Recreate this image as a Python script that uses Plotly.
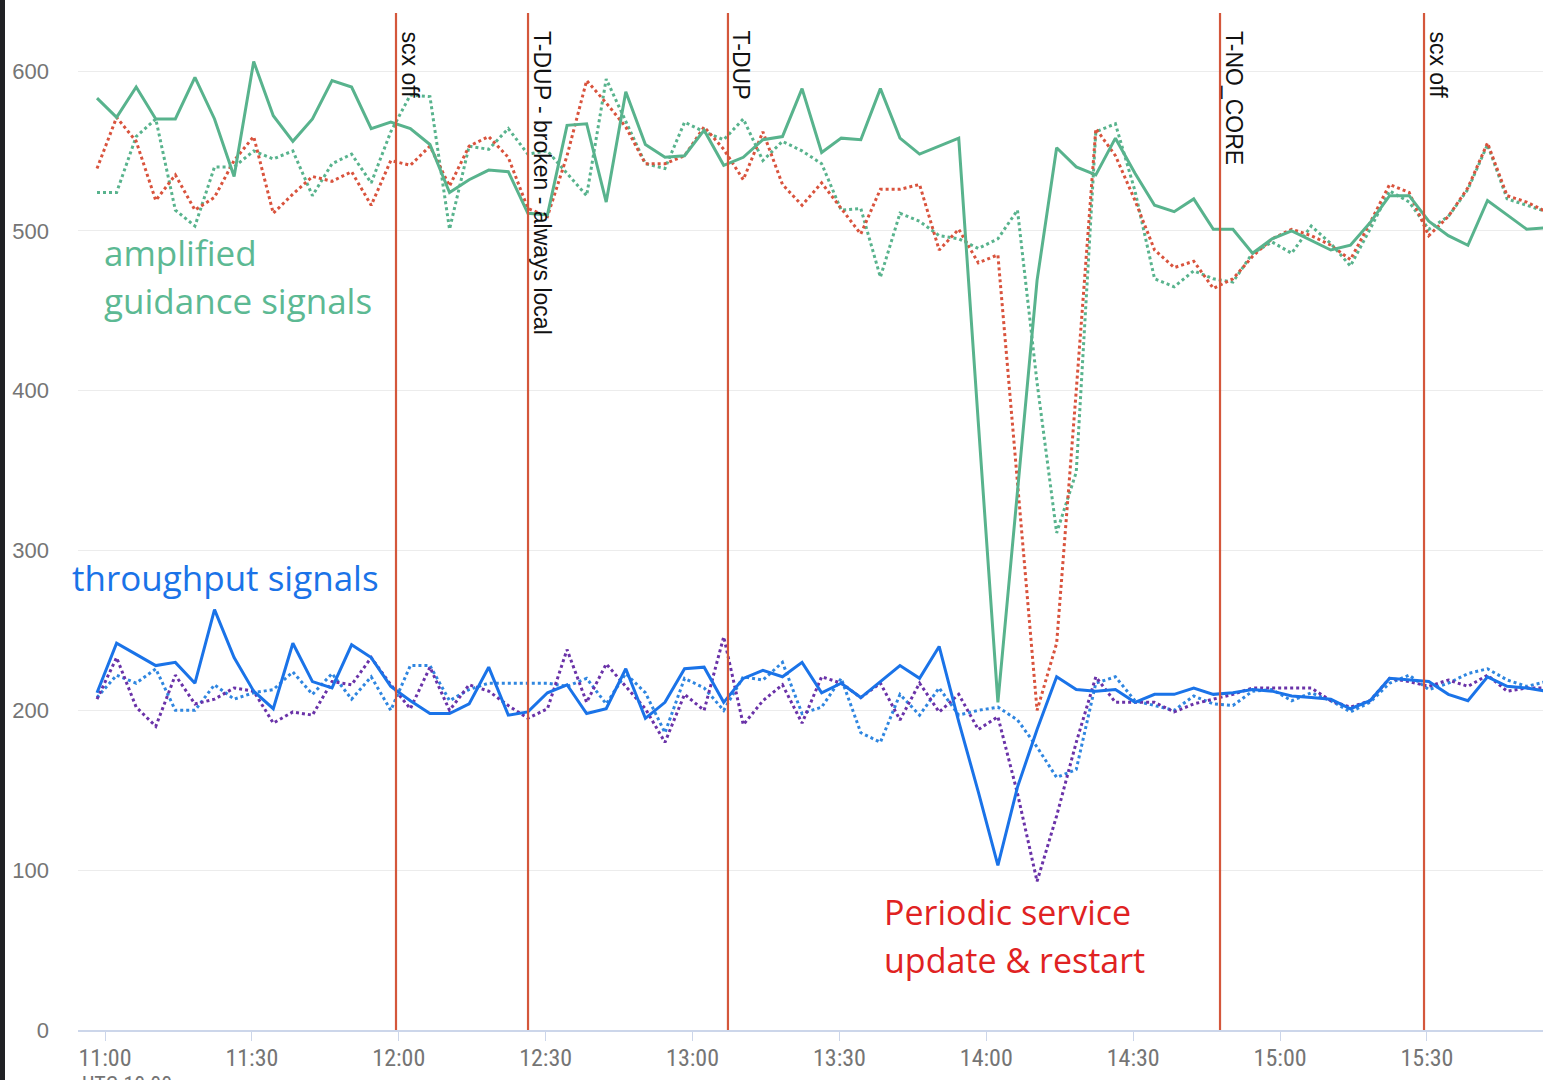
import pandas as pd
import plotly.graph_objects as go

# ---------------- data ----------------
start_time = "2024-05-14 10:58:22"
n_points = 75
times = pd.date_range(start=start_time, periods=n_points, freq="4min")

amp_main = [583,571,590,570,570,596,570,534,606,572,
            556,570,594,590,564,568,564,554,524,532,
            538,537,511,510,566,567,518,587,554,546,
            547,563,541,546,557,559,589,549,558,557,
            589,558,548,553,558,380,205,337,469,552,
            540,535,558,536,516,512,520,501,501,486,
            495,500,494,488,491,505,522,522,506,497,
            491,519,510,501,502]
amp_red = [539,571,556,519,535,513,521,544,559,511,
           523,534,531,537,516,544,541,553,528,553,
           559,546,514,509,547,594,580,565,542,542,
           547,565,551,532,562,529,516,530,514,498,
           526,526,529,488,501,480,485,340,200,242,
           400,564,547,519,488,477,481,464,470,484,
           495,501,497,491,482,505,529,524,497,509,
           527,555,522,518,512]
amp_green_dot = [524,524,559,570,513,503,540,540,550,545,
                 550,522,542,548,530,562,585,584,501,553,
                 551,564,548,550,536,522,595,569,542,539,
                 568,562,557,570,544,556,550,542,513,514,
                 471,511,506,497,495,489,495,513,405,311,
                 349,562,567,525,470,465,475,470,468,486,
                 493,486,503,492,478,501,525,518,501,509,
                 526,554,520,516,512]
thr_main = [211,242,235,228,230,217,263,233,212,201,
            242,218,214,241,233,215,206,198,198,204,
            227,197,199,211,216,198,201,226,195,205,
            226,227,205,220,225,221,230,211,217,208,
            218,228,220,240,193,149,103,152,188,221,
            213,212,213,205,210,210,214,210,211,213,
            212,209,208,207,201,206,220,219,218,210,
            206,221,215,214,212]
thr_blue_dot = [208,222,217,226,200,200,216,207,211,213,
                224,210,223,207,221,200,228,228,206,213,
                217,217,217,217,215,220,204,223,211,186,
                220,214,200,221,219,230,198,202,220,186,
                180,210,197,214,197,200,202,194,177,158,
                163,217,221,206,203,200,209,204,203,212,
                213,206,211,206,199,205,217,222,213,217,
                223,226,219,215,218]
thr_purple_dot = [207,233,202,190,222,204,207,214,212,192,
                  199,197,218,216,233,216,201,227,200,216,
                  212,203,195,201,238,205,229,215,201,180,
                  210,200,246,191,206,216,192,221,217,208,
                  217,194,217,199,210,188,196,148,93,134,
                  180,221,205,205,205,199,204,207,210,214,
                  214,214,214,206,202,206,220,218,215,219,
                  215,222,212,214,214]

event_times = ["2024-05-14 11:59:26", "2024-05-14 12:26:24", "2024-05-14 13:07:14",
               "2024-05-14 14:47:44", "2024-05-14 15:29:24"]
event_labels = ["scx off", "T-DUP - broken - always local", "T-DUP", "T-NO_CORE", "scx off"]

y_ticks = [0, 100, 200, 300, 400, 500, 600]

# ---------------- styling ----------------
W, H = 1543, 1080
ML, MR, MT, MB = 78, 0, 13, 50
PW, PH = W - ML - MR, H - MT - MB

GREEN = "#58b38d"
RED = "#d9533d"
BLUE = "#1a73e8"
LBLUE = "#2f86e0"
PURPLE = "#6a32a8"
EVENT = "#d4573b"

def px_x(p):
    return (p - ML) / PW

def px_y(p):
    return (H - MB - p) / PH

fig = go.Figure()

series = [
    (amp_green_dot, GREEN, "dot"),
    (amp_red, RED, "dot"),
    (amp_main, GREEN, "solid"),
    (thr_blue_dot, LBLUE, "dot"),
    (thr_purple_dot, PURPLE, "dot"),
    (thr_main, BLUE, "solid"),
]
for vals, col, dash in series:
    fig.add_trace(go.Scatter(x=times, y=vals, mode="lines",
                             line=dict(color=col, width=3, dash=dash),
                             showlegend=False, hoverinfo="skip"))

shapes = []
annotations = []
for t, lab in zip(event_times, event_labels):
    shapes.append(dict(type="line", xref="x", yref="paper", x0=t, x1=t, y0=0, y1=1,
                       line=dict(color=EVENT, width=2.2), layer="above"))
    annotations.append(dict(x=t, y=1, xref="x", yref="paper", text=lab, showarrow=False,
                            textangle=90, xanchor="left", yanchor="top", xshift=0, yshift=-17,
                            borderpad=0,
                            font=dict(family="Liberation Sans, Arial", size=23, color="#111111")))

# dark strip on the left edge
shapes.append(dict(type="rect", xref="paper", yref="paper",
                   x0=px_x(0), x1=px_x(5), y0=px_y(H), y1=px_y(0),
                   fillcolor="#202124", line=dict(width=0), layer="above"))

big_font = "Open Sans, Noto Sans"
def text_ann(txt, left_px, center_px, color, size=35):
    annotations.append(dict(x=px_x(left_px), y=px_y(center_px), xref="paper", yref="paper",
                            text=txt, showarrow=False, xanchor="left", yanchor="middle",
                            borderpad=0, font=dict(family=big_font, size=size, color=color)))

text_ann("amplified", 103, 252, "#5cb993")
text_ann("guidance signals", 103, 300, "#5cb993")
text_ann("throughput signals", 71, 577, BLUE)
text_ann("Periodic service", 883, 912, "#e02222", 34)
text_ann("update &amp; restart", 883, 960, "#e02222", 34)

annotations.append(dict(x=px_x(80), y=px_y(1084), xref="paper", yref="paper",
                        text="UTC-10:00", showarrow=False, xanchor="left", yanchor="middle",
                        font=dict(family="Liberation Sans Narrow, Roboto Condensed, Roboto", size=22,
                                  color="#757575")))

fig.update_layout(
    width=W, height=H,
    margin=dict(l=ML, r=MR, t=MT, b=MB, pad=0),
    paper_bgcolor="white", plot_bgcolor="white",
    shapes=shapes, annotations=annotations,
    showlegend=False,
    xaxis=dict(
        type="date",
        range=["2024-05-14 10:54:29", "2024-05-14 15:53:42"],
        tick0="2024-05-14 11:00:00", dtick=30 * 60 * 1000, tickformat="%H:%M",
        showgrid=False, zeroline=False,
        showline=True, linecolor="#ccd6ea", linewidth=2,
        ticks="outside", ticklen=9, tickwidth=1, tickcolor="#ccd6ea",
        ticklabelstandoff=-4,
        tickfont=dict(family="Liberation Sans Narrow, Roboto Condensed, Roboto", size=24, color="#757575"),
    ),
    yaxis=dict(
        range=[0, PH / 1.5983],
        tickvals=y_ticks,
        showgrid=True, gridcolor="#ececec", gridwidth=1,
        zeroline=False, showline=False, ticks="",
        ticklabelstandoff=28,
        tickfont=dict(family="Liberation Sans, Arial", size=22, color="#757575"),
    ),
)

fig.write_html("out.html", config={"displayModeBar": False},
               post_script="document.body.style.margin='0';document.body.style.overflow='hidden';")
